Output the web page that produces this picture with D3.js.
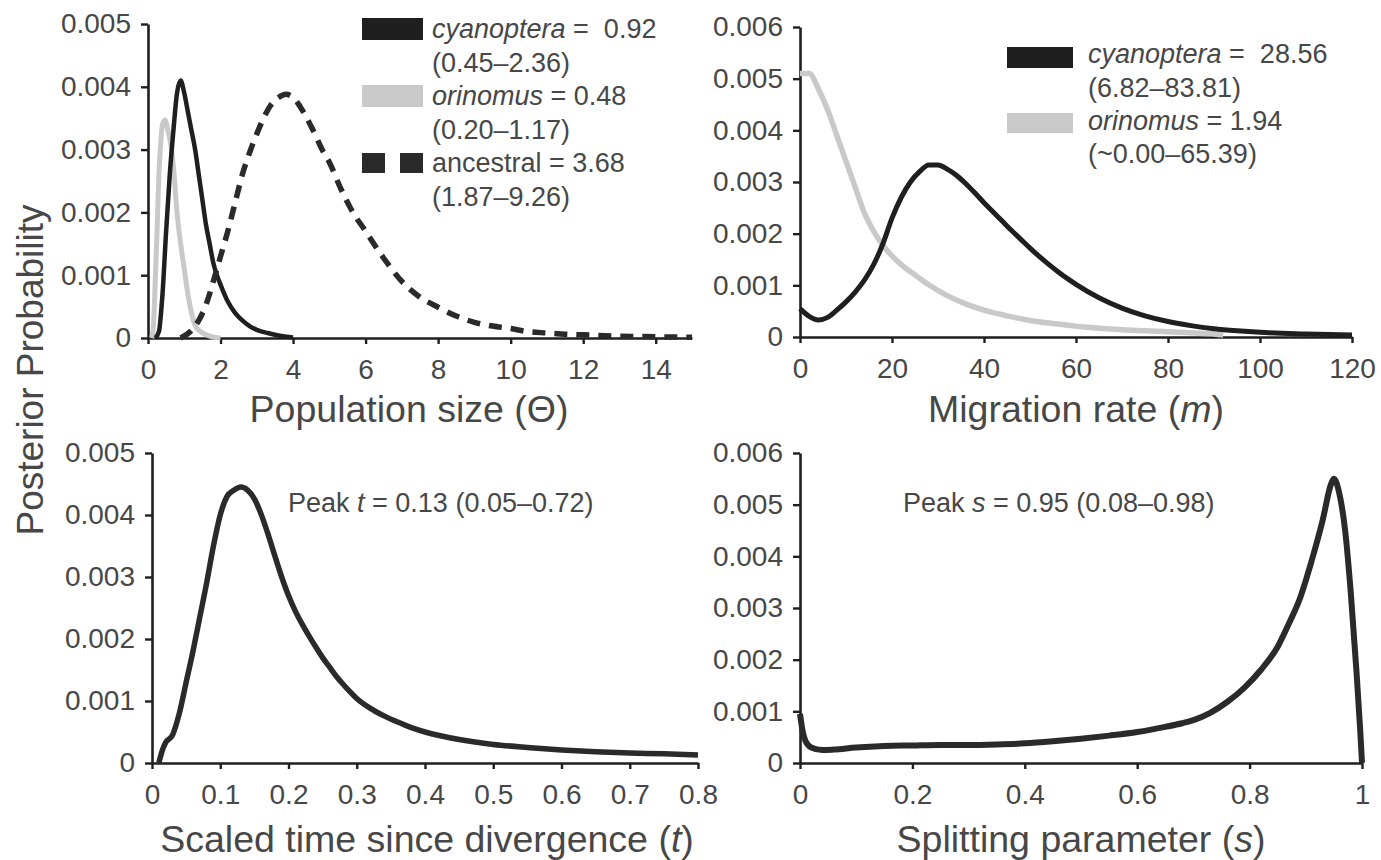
<!DOCTYPE html>
<meta charset="utf-8">
<html lang="en">
<head>
<title>Posterior Probability</title>
<script src="https://d3js.org/d3.v7.min.js"></script>
<style>
  body { margin: 0; background: #fff; }
  svg text { font-family: "Liberation Sans", Arial, sans-serif; fill: #474747; white-space: pre; }
</style>
</head>
<body>
<div id="chart"></div>
<script>
// ---- data: [parameter value, posterior probability] ----

// population size (theta)
var thetaCyan = [[0.2,0],[0.3,0.0001],[0.4,0.0007],[0.5,0.0017],[0.6,0.0026],[0.7,0.0033],[0.8,0.0039],[0.9,0.0041],
  [1.0,0.0039],[1.1,0.0036],[1.2,0.0033],[1.3,0.0030],[1.4,0.0026],[1.5,0.0022],[1.6,0.0018],[1.7,0.0015],[1.8,0.0012],
  [1.9,0.0010],[2.0,0.00085],[2.2,0.00058],[2.4,0.0004],[2.6,0.00028],[2.8,0.00019],[3.0,0.00013],[3.3,0.00008],[3.6,0.00004],[4.0,0.00001]];
var thetaOrin = [[0.1,0],[0.15,0.0002],[0.2,0.0009],[0.25,0.0017],[0.3,0.0026],[0.35,0.0031],[0.4,0.0034],[0.47,0.00347],
  [0.55,0.0033],[0.65,0.0030],[0.72,0.0026],[0.8,0.0020],[0.9,0.0015],[1.0,0.0011],[1.1,0.0007],[1.2,0.0004],[1.3,0.0002],
  [1.45,0.0001],[1.7,0.00003],[2.0,0]];
var thetaAnc = [[0.9,0],[1.2,0.00012],[1.4,0.00028],[1.6,0.00053],[1.8,0.0009],[2.0,0.0013],[2.2,0.0017],[2.4,0.00215],
  [2.6,0.0026],[2.8,0.00295],[3.0,0.00325],[3.2,0.00352],[3.4,0.00372],[3.6,0.00383],[3.8,0.00388],[4.0,0.00383],
  [4.2,0.00368],[4.4,0.00348],[4.6,0.00325],[4.8,0.003],[5.0,0.0028],[5.3,0.0024],[5.6,0.00205],[6.0,0.0017],
  [6.5,0.00127],[7.0,0.0009],[7.5,0.00065],[8.0,0.00049],[8.5,0.00035],[9.0,0.00025],[9.5,0.00019],[10,0.00015],
  [10.5,0.0001],[11,0.00008],[11.5,0.00006],[12,0.00005],[13,0.00003],[14,0.00002],[15,0.00001]];

// migration rate (m)
var migCyan = [[0,0.00055],[2,0.0004],[4,0.00033],[6,0.00038],[8,0.00052],[10,0.00068],[12,0.00087],[14,0.0011],
  [16,0.0014],[18,0.0018],[20,0.0023],[22,0.0027],[24,0.003],[26,0.0032],[28,0.00333],[30,0.00333],[32,0.00325],
  [34,0.00313],[36,0.00297],[38,0.00279],[40,0.0026],[42,0.00242],[44,0.00224],[46,0.00206],[48,0.00189],[50,0.00172],
  [52,0.00156],[54,0.00141],[56,0.00127],[58,0.00114],[60,0.00102],[65,0.00076],[70,0.00056],[75,0.00041],[80,0.0003],
  [85,0.00022],[90,0.00016],[95,0.00012],[100,0.00009],[110,0.00006],[120,0.00004]];
var migOrin = [[0,0.0051],[2,0.0051],[4,0.0048],[6,0.0044],[8,0.0039],[10,0.0034],[12,0.0029],[14,0.0024],[16,0.00205],
  [18,0.00178],[20,0.00157],[22,0.0014],[25,0.0012],[28,0.00101],[32,0.0008],[36,0.00064],[40,0.00052],[45,0.00041],
  [50,0.00032],[55,0.00026],[60,0.00021],[65,0.00017],[70,0.00014],[75,0.00012],[80,0.0001],[85,0.00008],[90,0.00006],[92,0.00004]];

// scaled time since divergence (t)
var timeSeries = [[0.01,0],[0.015,0.0002],[0.02,0.00033],[0.03,0.00045],[0.04,0.0008],[0.05,0.0013],[0.06,0.0018],
  [0.07,0.00235],[0.08,0.0029],[0.09,0.0035],[0.1,0.004],[0.11,0.0043],[0.12,0.0044],[0.13,0.00445],[0.14,0.0044],
  [0.15,0.00426],[0.16,0.00401],[0.17,0.00369],[0.18,0.00334],[0.19,0.003],[0.2,0.0027],[0.21,0.00245],[0.22,0.00224],
  [0.23,0.00205],[0.24,0.00187],[0.25,0.0017],[0.26,0.00155],[0.27,0.0014],[0.28,0.00127],[0.29,0.00115],[0.3,0.00104],
  [0.32,0.00088],[0.34,0.00076],[0.36,0.00066],[0.38,0.00057],[0.4,0.0005],[0.45,0.00038],[0.5,0.0003],[0.55,0.00025],
  [0.6,0.00021],[0.65,0.00018],[0.7,0.00016],[0.75,0.00015],[0.8,0.00013]];

// splitting parameter (s)
var splitSeries = [[0,0.00095],[0.005,0.0006],[0.01,0.00042],[0.02,0.0003],[0.04,0.00025],[0.06,0.00026],[0.1,0.0003],
  [0.15,0.00033],[0.2,0.00034],[0.25,0.00035],[0.3,0.00035],[0.35,0.00036],[0.4,0.00038],[0.45,0.00042],[0.5,0.00047],
  [0.55,0.00053],[0.6,0.0006],[0.65,0.0007],[0.68,0.00077],[0.7,0.00083],[0.73,0.00097],[0.76,0.00118],[0.79,0.00145],
  [0.82,0.0018],[0.85,0.00225],[0.87,0.0027],[0.89,0.0032],[0.91,0.0039],[0.93,0.0047],[0.945,0.0054],[0.95,0.0055],
  [0.96,0.0052],[0.97,0.0045],[0.98,0.0033],[0.99,0.0018],[0.997,0.0006],[1.0,0]];

// ticks
var yTicks5 = [0, 0.001, 0.002, 0.003, 0.004, 0.005];
var yTicks6 = [0, 0.001, 0.002, 0.003, 0.004, 0.005, 0.006];
var thetaTicks = [0, 2, 4, 6, 8, 10, 12, 14];
var migTicks = [0, 20, 40, 60, 80, 100, 120];
var timeTicks = [0, 0.1, 0.2, 0.3, 0.4, 0.5, 0.6, 0.7, 0.8];
var splitTicks = [0, 0.2, 0.4, 0.6, 0.8, 1];

var W = 1381, H = 860;
var ink = "#1f1f1f", grey = "#c9c9c9";
var tickFont = "28px", legFont = "27px", titleFont = "37.5px";

var svg = d3.select("#chart").append("svg")
  .attr("width", W).attr("height", H);

function yFmt(d) { return d === 0 ? "0" : d3.format(".3f")(d); }

function panel(opt) {
  var x = d3.scaleLinear().domain(opt.xDomain).range(opt.xRange);
  var y = d3.scaleLinear().domain(opt.yDomain).range(opt.yRange);
  var g = svg.append("g");

  var xa = g.append("g")
    .attr("transform", "translate(0," + y(0) + ")")
    .call(d3.axisBottom(x).tickValues(opt.xTicks).tickSize(6).tickSizeOuter(0)
      .tickPadding(15).tickFormat(function(d) { return String(d); }));
  var ya = g.append("g")
    .attr("transform", "translate(" + x(0) + ",0)")
    .call(d3.axisLeft(y).tickValues(opt.yTicks).tickSize(7).tickSizeOuter(0)
      .tickPadding(10).tickFormat(yFmt));
  [xa, ya].forEach(function(a) {
    a.style("color", ink);
    a.select(".domain").attr("stroke-width", 2.6);
    a.selectAll(".tick line").attr("stroke-width", 2.4);
    a.selectAll("text").style("font-size", tickFont);
  });

  // axis title
  var t = g.append("text")
    .attr("x", opt.titleX).attr("y", opt.titleY)
    .attr("text-anchor", "middle")
    .style("font-size", titleFont);
  t.append("tspan").text(opt.title[0]);
  t.append("tspan").style("font-style", "italic").text(opt.title[1]);
  t.append("tspan").text(opt.title[2]);

  var line = d3.line()
    .x(function(d) { return x(d[0]); })
    .y(function(d) { return y(d[1]); })
    .curve(d3.curveMonotoneX);

  opt.series.forEach(function(s) {
    g.append("path")
      .datum(s.data)
      .attr("fill", "none")
      .attr("stroke", s.color)
      .attr("stroke-width", s.width)
      .attr("stroke-dasharray", s.dash || null)
      .attr("stroke-linejoin", "round")
      .attr("d", line);
  });
  return g;
}

panel({
  xDomain: [0, 15], xRange: [148, 692], yDomain: [0, 0.005], yRange: [338, 24],
  xTicks: thetaTicks, yTicks: yTicks5,
  title: ["Population size (\u0398)", "", ""], titleX: 409, titleY: 422,
  series: [
    {data: thetaOrin, color: grey, width: 5},
    {data: thetaCyan, color: ink, width: 4.5},
    {data: thetaAnc, color: "#2a2a2a", width: 5.5, dash: "13,9"}
  ]
});

panel({
  xDomain: [0, 120], xRange: [800, 1352], yDomain: [0, 0.006], yRange: [337, 27],
  xTicks: migTicks, yTicks: yTicks6,
  title: ["Migration rate (", "m", ")"], titleX: 1076, titleY: 422,
  series: [
    {data: migOrin, color: grey, width: 5.5},
    {data: migCyan, color: ink, width: 5}
  ]
});

panel({
  xDomain: [0, 0.8], xRange: [152, 698], yDomain: [0, 0.005], yRange: [763, 453],
  xTicks: timeTicks, yTicks: yTicks5,
  title: ["Scaled time since divergence (", "t", ")"], titleX: 427, titleY: 852,
  series: [
    {data: timeSeries, color: "#2a2a2a", width: 5.5}
  ]
});

panel({
  xDomain: [0, 1], xRange: [800, 1362], yDomain: [0, 0.006], yRange: [763, 453],
  xTicks: splitTicks, yTicks: yTicks6,
  title: ["Splitting parameter (", "s", ")"], titleX: 1081, titleY: 852,
  series: [
    {data: splitSeries, color: "#2a2a2a", width: 6}
  ]
});

// shared y-axis title
svg.append("text")
  .attr("transform", "translate(43,370) rotate(-90)")
  .attr("text-anchor", "middle")
  .style("font-size", "37px")
  .text("Posterior Probability");

// legend helper: line with italic species name then value
function legLine(x, y, parts) {
  var t = svg.append("text").attr("x", x).attr("y", y).style("font-size", legFont);
  parts.forEach(function(p) {
    t.append("tspan").style("font-style", p[1] ? "italic" : "normal").text(p[0]);
  });
}

// population size legend
svg.append("rect").attr("x", 362).attr("y", 18).attr("width", 61).attr("height", 22).attr("fill", ink);
legLine(432, 38, [["cyanoptera", true], [" =  0.92", false]]);
legLine(432, 72, [["(0.45\u20132.36)", false]]);
svg.append("rect").attr("x", 362).attr("y", 85).attr("width", 61).attr("height", 22).attr("fill", grey);
legLine(432, 105, [["orinomus", true], [" = 0.48", false]]);
legLine(432, 139, [["(0.20\u20131.17)", false]]);
svg.append("rect").attr("x", 362).attr("y", 153).attr("width", 23).attr("height", 20).attr("fill", "#2a2a2a");
svg.append("rect").attr("x", 400).attr("y", 153).attr("width", 23).attr("height", 20).attr("fill", "#2a2a2a");
legLine(432, 172, [["ancestral = 3.68", false]]);
legLine(432, 206, [["(1.87\u20139.26)", false]]);

// migration legend
svg.append("rect").attr("x", 1007).attr("y", 47).attr("width", 66).attr("height", 21).attr("fill", ink);
legLine(1088, 63, [["cyanoptera", true], [" =  28.56", false]]);
legLine(1088, 97, [["(6.82\u201383.81)", false]]);
svg.append("rect").attr("x", 1007).attr("y", 113).attr("width", 66).attr("height", 20).attr("fill", grey);
legLine(1088, 130, [["orinomus", true], [" = 1.94", false]]);
legLine(1088, 163, [["(~0.00\u201365.39)", false]]);

// peak annotations
legLine(288, 512, [["Peak ", false], ["t", true], [" = 0.13 (0.05\u20130.72)", false]]);
legLine(903, 512, [["Peak ", false], ["s", true], [" = 0.95 (0.08\u20130.98)", false]]);
</script>
</body>
</html>
